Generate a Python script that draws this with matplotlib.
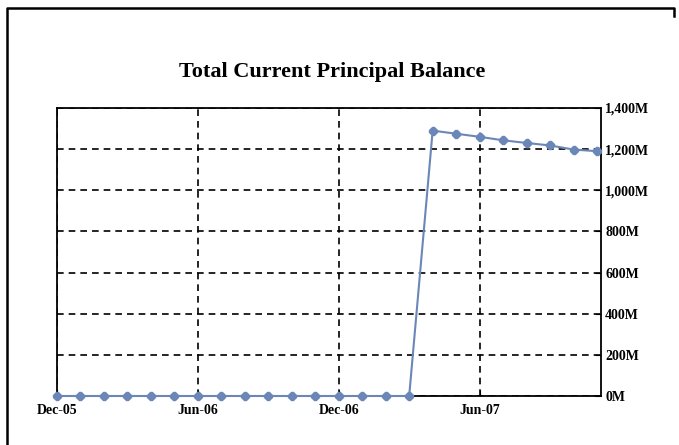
import matplotlib.pyplot as plt
from matplotlib.lines import Line2D
from matplotlib.ticker import FuncFormatter

# monthly balance, Dec-05 .. Nov-07 (millions)
months = ['Dec-05', 'Jan-06', 'Feb-06', 'Mar-06', 'Apr-06', 'May-06', 'Jun-06', 'Jul-06',
          'Aug-06', 'Sep-06', 'Oct-06', 'Nov-06', 'Dec-06', 'Jan-07', 'Feb-07', 'Mar-07',
          'Apr-07', 'May-07', 'Jun-07', 'Jul-07', 'Aug-07', 'Sep-07', 'Oct-07', 'Nov-07']
balance = [0, 0, 0, 0, 0, 0, 0, 0, 0, 0, 0, 0, 0, 0, 0, 0,
           1290, 1275, 1260, 1243, 1230, 1218, 1198, 1190]
tick_idx = [0, 6, 12, 18]
tick_lbl = ['Dec-05', 'Jun-06', 'Dec-06', 'Jun-07']
y_ticks = [0, 200, 400, 600, 800, 1000, 1200, 1400]

plt.rcParams['font.family'] = 'Liberation Serif'

fig = plt.figure(figsize=(6.79, 4.45), dpi=100)
# outer frame: left, top and a short piece of the right side
fx = [7/679, 7/679, 674/679, 674/679]
fy = [0, 1 - 8/445, 1 - 8/445, 1 - 16/445]
fig.lines.append(Line2D(fx, fy, transform=fig.transFigure, color='black', lw=1.8))

ax = fig.add_axes([57/679, 49/445, 544/679, 288/445])
x = list(range(len(months)))
ax.plot(x, balance, color='#6b87b8', lw=1.5, marker='8', ms=5.5, clip_on=False, zorder=3)

ax.set_xlim(0, 23.17)
ax.set_ylim(0, 1400)
ax.set_xticks(tick_idx)
ax.set_xticklabels(tick_lbl)
ax.set_yticks(y_ticks)
ax.yaxis.tick_right()
ax.yaxis.set_major_formatter(FuncFormatter(lambda v, p: '{:,.0f}M'.format(v)))
ax.tick_params(direction='in', length=4, labelsize=10, pad=3)
ax.tick_params(axis='x', pad=6)
for lab in ax.get_xticklabels() + ax.get_yticklabels():
    lab.set_fontweight('bold')
ax.grid(True, color='black', ls=(0, (4, 3)), lw=1.2)
for s in ax.spines.values():
    s.set_linewidth(1.3)

fig.text(332/679, 1 - 72/445, 'Total Current Principal Balance', ha='center', va='center',
         fontsize=16, fontweight='bold')

fig.savefig('out.png', dpi=100)
